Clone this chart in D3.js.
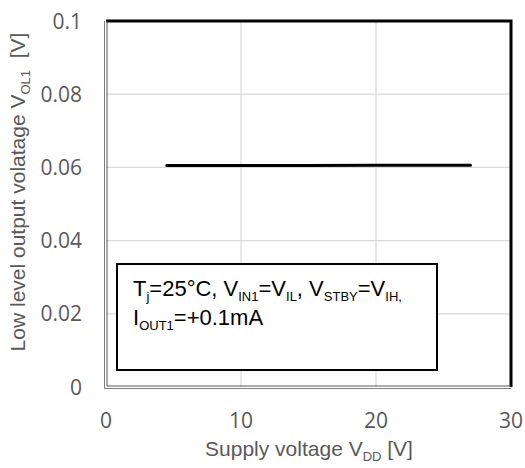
<!DOCTYPE html>
<html>
<head>
<meta charset="utf-8">
<script src="https://cdn.jsdelivr.net/npm/d3@7/dist/d3.min.js"></script>
<style>
  body { margin: 0; background: #fff; }
  svg text { font-family: "Liberation Sans", Arial, sans-serif; }
  svg text.tick { font-family: "Open Sans", sans-serif; }
</style>
</head>
<body>
<svg id="chart" width="525" height="468"></svg>
<script>
// data
const supplyV = [4.5, 10, 15, 20, 27];
const voutLow = [0.0605, 0.0605, 0.0605, 0.0606, 0.0606];
const xTicks = [0, 10, 20, 30];
const yTicks = [0, 0.02, 0.04, 0.06, 0.08, 0.1];

const svg = d3.select("#chart");
const m = { left: 106, right: 511, top: 21, bottom: 387 };

const x = d3.scaleLinear().domain([0, 30]).range([m.left, m.right]);
const y = d3.scaleLinear().domain([0, 0.1]).range([m.bottom, m.top]);

// grid
svg.append("g").selectAll("line")
  .data(yTicks.slice(1, -1)).enter().append("line")
  .attr("x1", m.left).attr("x2", m.right)
  .attr("y1", d => y(d)).attr("y2", d => y(d))
  .attr("stroke", "#d9d9d9").attr("stroke-width", 1.2);
svg.append("g").selectAll("line")
  .data(xTicks.slice(1, -1)).enter().append("line")
  .attr("y1", m.top).attr("y2", m.bottom)
  .attr("x1", d => x(d)).attr("x2", d => x(d))
  .attr("stroke", "#d9d9d9").attr("stroke-width", 1.2);

// frame: black top/right, double grey left/bottom
svg.append("path")
  .attr("d", `M${m.left},${m.top}H${m.right}V${m.bottom}`)
  .attr("fill", "none").attr("stroke", "#000").attr("stroke-width", 3);
svg.append("path")
  .attr("d", `M${m.left - 1.5},${m.top}V${m.bottom + 1.5}H${m.right}`)
  .attr("fill", "none").attr("stroke", "#7f7f7f").attr("stroke-width", 1);
svg.append("path")
  .attr("d", `M${m.left + 1},${m.top}V${m.bottom - 1}H${m.right}`)
  .attr("fill", "none").attr("stroke", "#595959").attr("stroke-width", 1);

// tick labels
svg.append("g").selectAll("text")
  .data(yTicks).enter().append("text").attr("class", "tick")
  .attr("x", 82).attr("y", d => y(d)).attr("dy", "0.36em")
  .attr("text-anchor", "end").attr("font-size", 21).attr("fill", "#595959")
  .text(d => d3.format("~g")(d));
svg.append("g").selectAll("text")
  .data(xTicks).enter().append("text").attr("class", "tick")
  .attr("x", d => x(d)).attr("y", 428)
  .attr("text-anchor", "middle").attr("font-size", 21).attr("fill", "#595959")
  .text(d => d);

// series
svg.append("path")
  .datum(supplyV.map((v, i) => [v, voutLow[i]]))
  .attr("d", d3.line().x(d => x(d[0])).y(d => y(d[1])))
  .attr("fill", "none").attr("stroke", "#000").attr("stroke-width", 3)
  .attr("stroke-linecap", "round");

// axis titles
const xt = svg.append("text").attr("x", 309).attr("y", 456)
  .attr("text-anchor", "middle").attr("font-size", 21).attr("fill", "#595959");
xt.append("tspan").text("Supply voltage V");
xt.append("tspan").attr("font-size", 13).attr("dy", 5).text("DD");
xt.append("tspan").attr("dy", -5).text(" [V]");

const yt = svg.append("text").attr("transform", "translate(25,192) rotate(-90)")
  .attr("text-anchor", "middle").attr("font-size", 21).attr("fill", "#595959");
yt.append("tspan").text("Low level output volatage V");
yt.append("tspan").attr("font-size", 13).attr("dy", 5).text("OL1");
yt.append("tspan").attr("dy", -5).text("\u00a0\u00a0[V]");

// condition box
svg.append("rect").attr("x", 117).attr("y", 264).attr("width", 320).attr("height", 106)
  .attr("fill", "#fff").attr("stroke", "#000").attr("stroke-width", 2);

const main = 22, small = 13, drop = 5;
const l1 = svg.append("text").attr("x", 133).attr("y", 296)
  .attr("font-size", main).attr("fill", "#000");
[["T", 0], ["j", 1], ["=25°C, V", 0], ["IN1", 1], ["=V", 0], ["IL", 1],
 [", V", 0], ["STBY", 1], ["=V", 0], ["IH,", 1]].forEach(([t, s], i, a) => {
  const prev = i > 0 ? a[i - 1][1] : 0;
  const ts = l1.append("tspan").text(t);
  if (s) ts.attr("font-size", small).attr("dy", drop);
  else if (prev) ts.attr("dy", -drop);
});

const l2 = svg.append("text").attr("x", 133).attr("y", 325)
  .attr("font-size", main).attr("fill", "#000");
l2.append("tspan").text("I");
l2.append("tspan").attr("font-size", small).attr("dy", drop).text("OUT1");
l2.append("tspan").attr("dy", -drop).text("=+0.1mA");
</script>
</body>
</html>
